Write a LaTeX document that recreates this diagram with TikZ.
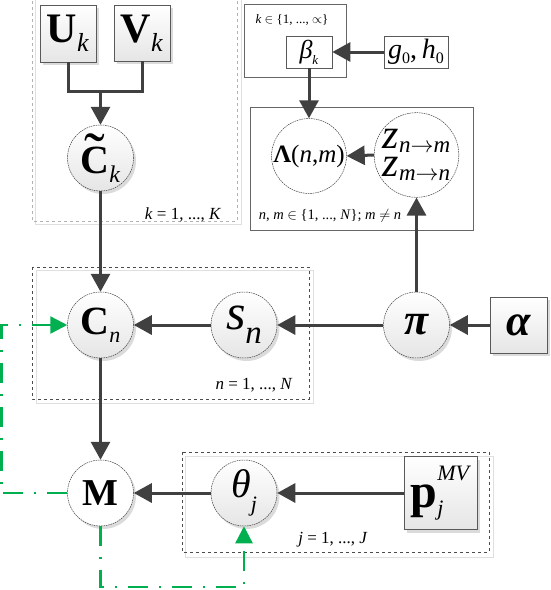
\RequirePackage{fix-cm}
\documentclass[tikz,border=0pt]{standalone}
\usepackage[no-math]{fontspec}
\setmainfont{Liberation Serif}
\usetikzlibrary{arrows.meta,shadows}
\definecolor{grn}{RGB}{0,176,80}
\definecolor{dk}{RGB}{64,64,64}
\newcommand\fs[1]{\fontsize{#1}{#1}\selectfont}
\newcommand\dn[3]{\raisebox{-#1pt}{\fs{#2}#3}}
\newcommand\tilC{\leavevmode\vbox{\offinterlineskip\halign{\hfil##\hfil\cr
  \fs{62}\char"02DC\cr\noalign{\kern-28pt}\fs{40}\textbf{C}\cr}}}
\tikzset{
  shd/.style={drop shadow={shadow xshift=2.5pt,shadow yshift=-3pt,fill=black!20,opacity=0.7}},
  rv/.style={circle, draw=black!75, line width=0.5pt, dash pattern=on 1.6pt off 0.8pt,
    minimum size=66pt, inner sep=0pt, top color=white, bottom color=black!10, shd},
  rvw/.style={circle, draw=black!75, line width=0.5pt, dash pattern=on 1.6pt off 0.8pt,
    minimum size=66pt, inner sep=0pt, fill=white, shd},
  plainc/.style={circle, draw=black!75, line width=0.5pt, dash pattern=on 1.6pt off 0.8pt,
    inner sep=0pt, fill=white},
  cst/.style={rectangle, draw=black!65, line width=0.7pt, inner sep=0pt,
    top color=white, bottom color=black!10, shd},
  pbox/.style={rectangle, draw=black!65, line width=0.7pt, fill=white, inner sep=0pt},
  arr/.style={draw=dk, line width=3pt, -{Triangle[length=18pt,width=19pt]}},
  ln/.style={draw=dk, line width=3pt},
  garr/.style={draw=grn, line width=2.5pt, dash pattern=on 20pt off 11pt on 2pt off 11pt,
    -{Triangle[length=17pt,width=17pt]}},
  lab/.style={inner sep=0pt},
}
\begin{document}
\begin{tikzpicture}[x=1pt,y=-1pt]
\useasboundingbox (0,0) rectangle (550,590);
% plates
\draw[gray!25, line width=0.6pt] (35,-5) rectangle (241,224);
\draw[gray!60, dashed, line width=0.6pt] (32,-5) rectangle (237,221);
\draw[gray!25, line width=0.7pt] (36,270) rectangle (313,403);
\draw[black!70, dashed, line width=0.6pt] (32,267) rectangle (309,399);
\draw[gray!25, line width=0.7pt] (185,456) rectangle (493,557);
\draw[black!70, dashed, line width=0.6pt] (182,452) rectangle (489,552);
\draw[black!60, line width=0.8pt] (244,4) rectangle (346,77);
\draw[black!60, line width=0.8pt] (250,107) rectangle (473,230);
% nodes
\node[cst, minimum width=56pt, minimum height=57pt] (U) at (68,33.5) {\fs{42}\textbf{U}\dn{9}{26}{\textit{k}}};
\node[cst, minimum width=56pt, minimum height=56pt] (V) at (142,33) {\fs{42}\textbf{V}\dn{9}{26}{\textit{k}}};
\node[rv] (Ct) at (100.5,158) {\tilC\dn{9}{24}{\textit{k}}};
\node[pbox, minimum width=46pt, minimum height=32pt] (b) at (309,52) {\fs{26}\textit{β}\dn{6}{13}{\textit{k}}};
\node[pbox, minimum width=64pt, minimum height=32pt] (g) at (416,52) {\fs{28}\textit{g}\dn{5}{16}{0},\,\textit{h}\dn{5}{16}{0}};
\node[plainc, minimum size=74pt] (L) at (309,156) {\fs{25}\textbf{Λ}(\textit{n},\textit{m})};
\node[plainc, minimum size=80pt, align=left, font=\fs{42}] (z) at (416.5,155)
  {\textit{z}\dn{4}{23}{\textit{n}$\to$\textit{m}}\\[-14pt]\textit{z}\dn{4}{23}{\textit{m}$\to$\textit{n}}};
\node[rv] (C) at (100.5,325) {\fs{40}\textbf{C}\dn{8}{22}{\textit{n}}};
\node[rv] (s) at (244,325) {\fs{50}\textit{s}\dn{14}{33}{\textit{n}}};
\node[rv] (pi) at (416.5,325) {\fs{44}\textbf{\textit{π}}};
\node[cst, minimum width=57pt, minimum height=56pt] (al) at (518.5,325) {\fs{44}\textbf{\textit{α}}};
\node[rvw] (M) at (100.5,493) {\fs{38}\textbf{M}};
\node[rv] (th) at (244,493) {\fs{40}\textit{θ}\dn{14}{22}{\textit{j}}};
\node[cst, minimum width=73pt, minimum height=73pt] (p) at (441,493)
  {\fs{48}\textbf{p}\rlap{\dn{8}{22}{\textit{j}}}\raisebox{27pt}{\fs{22}\textit{MV}}};
% labels
\node[lab, font=\fs{17}] (lk) at (183,215) {\textit{k} = 1, ..., \textit{K}};
\node[lab, font=\fs{13}] (lb) at (292,20) {\textit{k} $\in$ \{1, ..., $\propto$\}};
\node[lab, font=\fs{14.5}] (lnm) at (330,216) {\textit{n}, \textit{m} $\in$ \{1, ..., \textit{N}\}; \textit{m} $\neq$ \textit{n}};
\node[lab, font=\fs{17}] (ln) at (254,385) {\textit{n} = 1, ..., \textit{N}};
\node[lab, font=\fs{17}] (lj) at (333,540) {\textit{j} = 1, ..., \textit{J}};
% connectors
\coordinate (jn) at (100.5,91);
\draw[ln] (U.south) |- (jn);
\draw[ln] (V.south) |- (jn);
\draw[arr] (jn) -- (Ct.north);
\draw[arr] (Ct.south) -- (C.north);
\draw[arr] (C.south) -- (M.north);
\draw[arr] (s.west) -- (C.east);
\draw[arr] (pi.west) -- (s.east);
\draw[arr] (al.west) -- (pi.east);
\draw[arr] (pi.north) -- (z.south);
\draw[arr] (z.west) -- (L.east);
\draw[arr] (b.south) -- (L.north);
\draw[arr] (g.west) -- (b.east);
\draw[arr] (th.west) -- (M.east);
\draw[arr] (p.west) -- (th.east);
\coordinate (g1) at (1.5,493);
\coordinate (g2) at (1.5,325);
\draw[garr] (M.west) -- (g1) -- (g2) -- (C.west);
\coordinate (g3) at (100.5,587);
\coordinate (g4) at (244,587);
\draw[garr] (M.south) -- (g3) -- (g4) -- (th.south);
\end{tikzpicture}
\end{document}
